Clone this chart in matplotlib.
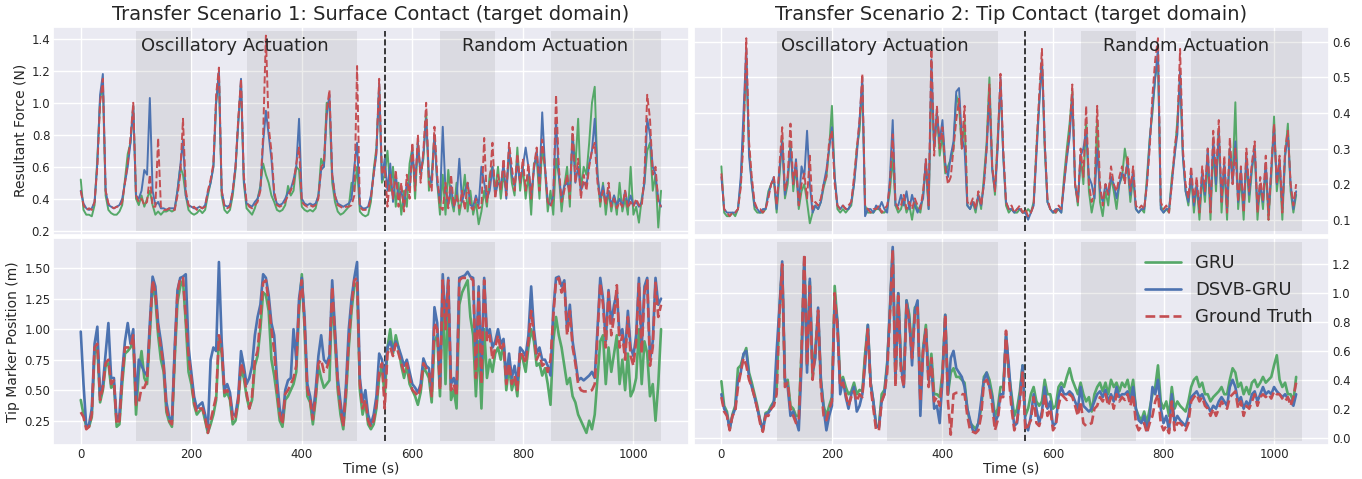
import numpy as np
import matplotlib
matplotlib.use('Agg')
import matplotlib.pyplot as plt
import seaborn as sns

dt = 5  # seconds between the samples

# ---- scenario 1 (surface contact), resultant force (N) ----
f1_gt = [0.45, 0.36, 0.33, 0.34, 0.33, 0.38, 0.6, 1.0, 1.15, 0.45,
         0.37, 0.35, 0.34, 0.35, 0.35, 0.38, 0.5, 0.62, 0.78, 1.0,
         0.42, 0.38, 0.4, 0.36, 0.38, 0.55, 0.35, 0.35, 0.78, 0.35,
         0.33, 0.33, 0.34, 0.33, 0.33, 0.42, 0.55, 0.9, 0.45, 0.36,
         0.34, 0.35, 0.33, 0.35, 0.34, 0.35, 0.45, 0.52, 0.62, 1.05,
         1.22, 0.45, 0.35, 0.34, 0.35, 0.45, 0.6, 0.9, 1.15, 0.55,
         0.38, 0.35, 0.34, 0.36, 0.38, 0.45, 0.8, 1.42, 0.85, 0.7,
         0.45, 0.36, 0.35, 0.36, 0.38, 0.42, 0.45, 0.5, 0.62, 0.72,
         0.38, 0.36, 0.35, 0.36, 0.35, 0.36, 0.4, 0.6, 0.62, 0.95,
         1.08, 0.55, 0.42, 0.36, 0.35, 0.34, 0.35, 0.35, 0.36, 0.42,
         1.23, 0.35, 0.33, 0.33, 0.34, 0.4, 0.55, 0.7, 1.15, 0.55,
         0.6, 0.35, 0.55, 0.4, 0.58, 0.35, 0.5, 0.32, 0.55, 0.4,
         0.75, 0.45, 0.8, 0.5, 0.7, 1.0, 0.5, 0.45, 0.85, 0.55,
         0.35, 0.33, 0.5, 0.34, 0.55, 0.35, 0.42, 0.34, 0.45, 0.33,
         0.5, 0.35, 0.33, 0.4, 0.34, 0.35, 0.78, 0.38, 0.5, 0.75,
         0.4, 0.55, 0.45, 0.65, 0.42, 0.75, 0.6, 0.45, 0.68, 0.5,
         0.65, 0.45, 0.62, 0.4, 0.6, 0.72, 0.45, 0.77, 0.6, 0.38,
         0.35, 0.4, 1.05, 0.6, 0.38, 0.45, 0.55, 0.4, 0.85, 0.5,
         0.65, 0.4, 0.55, 0.45, 0.6, 0.7, 0.75, 0.5, 0.38, 0.45,
         0.36, 0.5, 0.35, 0.4, 0.34, 0.38, 0.35, 0.45, 0.34, 0.38,
         0.35, 0.4, 0.36, 0.35, 0.55, 1.05, 0.9, 0.55, 0.6, 0.38,
         0.35]
f1_gru = [0.52, 0.33, 0.3, 0.3, 0.29, 0.36, 0.65, 1.02, 1.12, 0.42,
          0.33, 0.31, 0.3, 0.3, 0.32, 0.36, 0.52, 0.68, 0.75, 0.98,
          0.4, 0.36, 0.42, 0.35, 0.4, 0.45, 0.36, 0.3, 0.32, 0.3,
          0.32, 0.32, 0.33, 0.32, 0.33, 0.45, 0.6, 0.55, 0.42, 0.33,
          0.31, 0.3, 0.31, 0.33, 0.31, 0.33, 0.42, 0.5, 0.6, 1.0,
          1.18, 0.42, 0.33, 0.31, 0.33, 0.42, 0.58, 0.88, 1.12, 0.5,
          0.34, 0.32, 0.3, 0.34, 0.4, 0.48, 0.62, 0.55, 0.5, 0.42,
          0.38, 0.33, 0.32, 0.33, 0.36, 0.48, 0.42, 0.45, 0.6, 0.58,
          0.35, 0.33, 0.32, 0.33, 0.32, 0.34, 0.42, 0.65, 0.6, 1.0,
          1.0, 0.5, 0.38, 0.32, 0.3, 0.31, 0.33, 0.35, 0.5, 0.45,
          0.6, 0.32, 0.3, 0.29, 0.3, 0.38, 0.58, 0.72, 1.1, 0.5,
          0.55, 0.7, 0.45, 0.6, 0.35, 0.5, 0.3, 0.45, 0.35, 0.62,
          0.72, 0.4, 0.75, 0.55, 0.65, 0.95, 0.45, 0.55, 0.8, 0.5,
          0.3, 0.55, 0.3, 0.58, 0.4, 0.32, 0.5, 0.3, 0.4, 0.55,
          0.32, 0.45, 0.3, 0.38, 0.24, 0.32, 0.45, 0.35, 0.55, 0.6,
          0.45, 0.6, 0.4, 0.55, 0.45, 0.7, 0.5, 0.42, 0.72, 0.45,
          0.6, 0.4, 0.55, 0.3, 0.62, 0.65, 0.4, 0.72, 0.58, 0.32,
          0.45, 0.3, 0.65, 0.55, 0.32, 0.48, 0.6, 0.35, 0.8, 0.6,
          0.9, 0.45, 0.6, 0.55, 0.75, 1.0, 1.1, 0.55, 0.35, 0.5,
          0.3, 0.45, 0.32, 0.42, 0.3, 0.5, 0.32, 0.4, 0.3, 0.6,
          0.3, 0.35, 0.25, 0.4, 0.5, 0.7, 0.75, 0.45, 0.55, 0.22,
          0.45]
f1_dsvb = [0.45, 0.37, 0.34, 0.33, 0.34, 0.38, 0.62, 1.05, 1.18, 0.45,
           0.36, 0.35, 0.34, 0.35, 0.36, 0.4, 0.5, 0.6, 0.75, 0.98,
           0.42, 0.4, 0.45, 0.58, 0.55, 1.03, 0.45, 0.36, 0.38, 0.34,
           0.34, 0.33, 0.34, 0.34, 0.34, 0.45, 0.6, 0.77, 0.42, 0.36,
           0.35, 0.34, 0.34, 0.35, 0.34, 0.36, 0.44, 0.5, 0.6, 1.0,
           1.2, 0.45, 0.36, 0.35, 0.36, 0.45, 0.6, 0.88, 1.15, 0.52,
           0.37, 0.36, 0.35, 0.38, 0.4, 0.46, 0.75, 0.95, 0.8, 0.65,
           0.42, 0.37, 0.36, 0.37, 0.4, 0.44, 0.46, 0.52, 0.6, 0.9,
           0.4, 0.37, 0.36, 0.37, 0.36, 0.37, 0.42, 0.58, 0.6, 0.92,
           1.05, 0.55, 0.42, 0.37, 0.36, 0.35, 0.36, 0.37, 0.4, 0.6,
           0.75, 0.36, 0.34, 0.34, 0.35, 0.42, 0.55, 0.68, 1.12, 0.52,
           0.65, 0.45, 0.62, 0.38, 0.55, 0.4, 0.45, 0.35, 0.5, 0.45,
           0.7, 0.5, 0.75, 0.55, 0.68, 0.9, 0.55, 0.5, 0.8, 0.5,
           0.38, 0.85, 0.45, 0.36, 0.48, 0.35, 0.4, 0.65, 0.38, 0.45,
           0.5, 0.36, 0.35, 0.42, 0.36, 0.6, 0.5, 0.4, 0.45, 0.6,
           0.42, 0.5, 0.48, 0.62, 0.4, 0.72, 0.55, 0.48, 0.62, 0.5,
           0.6, 0.72, 0.6, 0.42, 0.58, 0.7, 0.5, 0.94, 0.6, 0.38,
           0.36, 0.42, 0.9, 0.55, 0.4, 0.48, 0.5, 0.45, 0.8, 0.5,
           0.6, 0.45, 0.5, 0.48, 0.62, 0.7, 0.9, 0.55, 0.4, 0.48,
           0.38, 0.45, 0.36, 0.42, 0.36, 0.4, 0.35, 0.45, 0.36, 0.42,
           0.36, 0.38, 0.35, 0.38, 0.5, 0.9, 0.8, 0.6, 0.55, 0.4,
           0.35]

# ---- scenario 2 (tip contact), resultant force (N) ----
f2_gt = [0.23, 0.13, 0.12, 0.11, 0.12, 0.12, 0.13, 0.19, 0.32, 0.61,
         0.32, 0.22, 0.15, 0.13, 0.13, 0.12, 0.13, 0.16, 0.2, 0.22,
         0.14, 0.25, 0.36, 0.18, 0.22, 0.37, 0.2, 0.26, 0.14, 0.2,
         0.23, 0.16, 0.28, 0.13, 0.15, 0.14, 0.16, 0.2, 0.22, 0.32,
         0.35, 0.2, 0.14, 0.13, 0.14, 0.13, 0.14, 0.15, 0.22, 0.3,
         0.38, 0.51, 0.14, 0.13, 0.12, 0.13, 0.13, 0.14, 0.12, 0.13,
         0.14, 0.2, 0.34, 0.15, 0.13, 0.14, 0.17, 0.13, 0.15, 0.13,
         0.16, 0.14, 0.13, 0.18, 0.27, 0.14, 0.58, 0.28, 0.42, 0.3,
         0.36, 0.25, 0.2, 0.22, 0.3, 0.38, 0.44, 0.3, 0.42, 0.15,
         0.14, 0.16, 0.13, 0.18, 0.14, 0.2, 0.3, 0.48, 0.25, 0.18,
         0.32, 0.51, 0.3, 0.15, 0.13, 0.14, 0.12, 0.13, 0.14, 0.12,
         0.13, 0.11, 0.12, 0.14, 0.3, 0.45, 0.58, 0.32, 0.16, 0.13,
         0.13, 0.12, 0.14, 0.13, 0.2, 0.28, 0.35, 0.48, 0.2, 0.15,
         0.3, 0.22, 0.42, 0.2, 0.15, 0.18, 0.42, 0.2, 0.14, 0.2,
         0.17, 0.25, 0.2, 0.18, 0.22, 0.25, 0.2, 0.28, 0.18, 0.25,
         0.14, 0.13, 0.14, 0.13, 0.2, 0.3, 0.45, 0.55, 0.61, 0.15,
         0.13, 0.14, 0.12, 0.2, 0.3, 0.36, 0.58, 0.3, 0.2, 0.16,
         0.25, 0.15, 0.22, 0.12, 0.25, 0.18, 0.3, 0.12, 0.35, 0.22,
         0.38, 0.15, 0.28, 0.12, 0.33, 0.2, 0.3, 0.15, 0.25, 0.12,
         0.3, 0.18, 0.26, 0.32, 0.12, 0.22, 0.15, 0.28, 0.1, 0.25,
         0.37, 0.2, 0.28, 0.12, 0.3, 0.35, 0.2, 0.14, 0.2]
f2_gru = [0.25, 0.12, 0.11, 0.11, 0.12, 0.11, 0.13, 0.2, 0.35, 0.55,
          0.3, 0.2, 0.13, 0.12, 0.12, 0.12, 0.13, 0.18, 0.2, 0.21,
          0.12, 0.22, 0.33, 0.16, 0.2, 0.32, 0.18, 0.25, 0.13, 0.18,
          0.2, 0.15, 0.09, 0.12, 0.14, 0.13, 0.15, 0.19, 0.22, 0.3,
          0.42, 0.22, 0.13, 0.12, 0.13, 0.12, 0.13, 0.14, 0.2, 0.3,
          0.35, 0.48, 0.14, 0.12, 0.12, 0.12, 0.13, 0.13, 0.12, 0.12,
          0.13, 0.18, 0.28, 0.14, 0.12, 0.13, 0.16, 0.12, 0.14, 0.1,
          0.15, 0.13, 0.12, 0.17, 0.25, 0.13, 0.5, 0.3, 0.4, 0.28,
          0.34, 0.23, 0.25, 0.27, 0.3, 0.45, 0.42, 0.3, 0.38, 0.14,
          0.13, 0.15, 0.12, 0.17, 0.13, 0.22, 0.32, 0.5, 0.25, 0.17,
          0.33, 0.48, 0.28, 0.14, 0.12, 0.13, 0.12, 0.12, 0.13, 0.12,
          0.12, 0.13, 0.12, 0.15, 0.3, 0.43, 0.55, 0.3, 0.15, 0.13,
          0.12, 0.12, 0.13, 0.12, 0.22, 0.3, 0.37, 0.46, 0.2, 0.14,
          0.28, 0.2, 0.38, 0.18, 0.12, 0.16, 0.38, 0.15, 0.11, 0.18,
          0.14, 0.22, 0.18, 0.13, 0.2, 0.22, 0.3, 0.25, 0.15, 0.22,
          0.13, 0.12, 0.13, 0.12, 0.22, 0.33, 0.4, 0.5, 0.55, 0.14,
          0.12, 0.13, 0.12, 0.22, 0.28, 0.38, 0.5, 0.28, 0.18, 0.14,
          0.22, 0.12, 0.2, 0.1, 0.22, 0.15, 0.27, 0.1, 0.3, 0.18,
          0.35, 0.12, 0.25, 0.1, 0.3, 0.22, 0.43, 0.13, 0.22, 0.1,
          0.27, 0.15, 0.24, 0.3, 0.1, 0.2, 0.13, 0.25, 0.1, 0.22,
          0.39, 0.18, 0.25, 0.1, 0.28, 0.37, 0.18, 0.12, 0.17]
f2_dsvb = [0.22, 0.13, 0.12, 0.12, 0.12, 0.12, 0.13, 0.22, 0.4, 0.58,
           0.28, 0.2, 0.14, 0.13, 0.12, 0.13, 0.13, 0.17, 0.2, 0.22,
           0.13, 0.24, 0.32, 0.17, 0.22, 0.3, 0.2, 0.27, 0.14, 0.25,
           0.22, 0.35, 0.2, 0.12, 0.14, 0.13, 0.15, 0.2, 0.24, 0.3,
           0.36, 0.22, 0.14, 0.13, 0.14, 0.13, 0.13, 0.15, 0.2, 0.28,
           0.38, 0.5, 0.11, 0.13, 0.13, 0.12, 0.14, 0.13, 0.15, 0.13,
           0.12, 0.22, 0.38, 0.14, 0.14, 0.17, 0.14, 0.18, 0.13, 0.17,
           0.14, 0.12, 0.14, 0.16, 0.27, 0.13, 0.55, 0.3, 0.4, 0.32,
           0.38, 0.26, 0.22, 0.28, 0.32, 0.46, 0.47, 0.33, 0.3, 0.14,
           0.13, 0.15, 0.13, 0.17, 0.14, 0.2, 0.3, 0.45, 0.24, 0.18,
           0.3, 0.5, 0.28, 0.15, 0.13, 0.13, 0.12, 0.13, 0.13, 0.12,
           0.12, 0.1, 0.12, 0.14, 0.28, 0.42, 0.55, 0.32, 0.15, 0.13,
           0.12, 0.13, 0.13, 0.12, 0.2, 0.27, 0.33, 0.45, 0.2, 0.15,
           0.28, 0.3, 0.35, 0.22, 0.2, 0.16, 0.3, 0.18, 0.15, 0.2,
           0.17, 0.22, 0.2, 0.16, 0.2, 0.23, 0.22, 0.26, 0.17, 0.24,
           0.13, 0.12, 0.13, 0.13, 0.2, 0.32, 0.42, 0.5, 0.58, 0.13,
           0.12, 0.13, 0.13, 0.2, 0.28, 0.34, 0.52, 0.28, 0.18, 0.15,
           0.23, 0.14, 0.2, 0.13, 0.23, 0.17, 0.3, 0.13, 0.33, 0.2,
           0.35, 0.15, 0.26, 0.13, 0.3, 0.2, 0.32, 0.15, 0.24, 0.13,
           0.28, 0.17, 0.25, 0.3, 0.13, 0.2, 0.15, 0.26, 0.12, 0.24,
           0.36, 0.2, 0.27, 0.13, 0.28, 0.34, 0.2, 0.13, 0.18]

# ---- scenario 1, tip marker position (m) ----
p1_gt = [0.32, 0.28, 0.18, 0.2, 0.3, 0.85, 0.88, 0.42, 0.52, 0.72,
         0.75, 0.55, 0.58, 0.22, 0.25, 0.6, 0.85, 0.85, 0.85, 0.95,
         0.38, 0.4, 0.52, 0.52, 0.58, 1.0, 1.4, 1.3, 1.0, 0.85,
         0.7, 0.35, 0.25, 0.22, 0.8, 1.3, 1.42, 1.42, 1.1, 0.78,
         0.6, 0.4, 0.32, 0.35, 0.35, 0.28, 0.15, 0.25, 0.35, 0.45,
         0.95, 0.85, 0.48, 0.5, 0.45, 0.25, 0.28, 0.42, 0.72, 0.65,
         0.48, 0.35, 0.45, 0.75, 0.82, 1.1, 1.38, 1.4, 1.22, 1.0,
         0.82, 0.5, 0.3, 0.22, 0.47, 0.5, 0.55, 0.6, 0.7, 1.2,
         1.4, 1.05, 0.5, 0.42, 0.26, 0.45, 0.72, 0.75, 0.65, 0.68,
         0.75, 1.35, 0.95, 0.55, 0.35, 0.2, 0.5, 0.9, 1.2, 1.4,
         1.42, 0.55, 0.35, 0.42, 0.25, 0.2, 0.25, 0.38, 0.65, 0.72,
         0.35, 0.8, 0.85, 0.78, 0.88, 0.8, 0.72, 0.65, 0.72, 0.6,
         0.5, 0.48, 0.45, 0.52, 0.72, 0.68, 0.65, 0.45, 1.05, 1.0,
         0.5, 1.4, 1.0, 1.4, 0.5, 0.55, 0.45, 1.4, 1.42, 1.42,
         1.42, 1.42, 1.4, 0.6, 1.3, 0.55, 1.4, 0.9, 0.95, 0.75,
         0.85, 0.95, 0.82, 0.88, 0.55, 0.72, 0.55, 0.62, 0.5, 0.82,
         0.78, 0.72, 0.9, 1.15, 0.95, 0.75, 0.8, 0.7, 0.72, 0.65,
         0.75, 1.1, 1.4, 1.42, 1.3, 1.38, 0.95, 1.15, 0.85, 0.72,
         0.55, 0.5, 0.49, 0.49, 0.49, 0.5, 0.55, 0.95, 1.38, 1.2,
         0.85, 1.3, 0.95, 1.1, 1.36, 0.85, 0.95, 0.75, 1.1, 0.78,
         0.7, 0.9, 1.38, 0.8, 1.3, 1.4, 0.7, 0.85, 1.38, 1.1,
         1.2]
p1_gru = [0.42, 0.3, 0.2, 0.2, 0.28, 0.8, 0.85, 0.4, 0.5, 0.7,
          0.72, 0.52, 0.55, 0.2, 0.22, 0.55, 0.8, 0.82, 0.85, 0.9,
          0.3, 0.65, 0.82, 0.6, 0.55, 0.95, 1.38, 1.25, 0.95, 0.75,
          0.65, 0.32, 0.24, 0.2, 0.75, 1.22, 1.35, 1.4, 1.05, 0.65,
          0.55, 0.38, 0.3, 0.33, 0.35, 0.25, 0.15, 0.22, 0.3, 0.42,
          0.92, 0.8, 0.45, 0.48, 0.42, 0.22, 0.25, 0.4, 0.68, 0.6,
          0.45, 0.35, 0.42, 0.7, 0.78, 1.0, 1.3, 1.28, 1.15, 0.75,
          0.62, 0.45, 0.25, 0.2, 0.42, 0.45, 0.5, 0.55, 0.65, 1.15,
          1.45, 1.0, 0.45, 0.4, 0.22, 0.42, 0.7, 0.6, 0.52, 0.55,
          0.58, 1.3, 0.9, 0.5, 0.3, 0.18, 0.45, 0.85, 1.15, 1.35,
          1.38, 0.5, 0.3, 0.4, 0.22, 0.18, 0.22, 0.35, 0.6, 0.7,
          0.45, 0.85, 1.0, 0.8, 0.95, 0.85, 0.7, 0.6, 0.7, 0.55,
          0.5, 0.45, 0.38, 0.48, 0.68, 0.65, 0.6, 0.4, 0.9, 0.95,
          0.45, 1.3, 0.55, 1.3, 0.42, 0.5, 0.35, 1.2, 1.3, 1.35,
          1.4, 1.1, 0.95, 0.45, 0.9, 0.35, 1.0, 0.6, 0.75, 0.65,
          0.8, 0.85, 0.75, 0.9, 0.5, 0.7, 0.5, 0.6, 0.45, 0.8,
          0.75, 0.65, 0.85, 1.0, 0.9, 0.7, 0.72, 0.62, 0.68, 0.55,
          0.38, 0.9, 1.1, 0.95, 0.85, 0.7, 0.55, 0.6, 0.45, 0.4,
          0.3, 0.25, 0.2, 0.15, 0.25, 0.18, 0.3, 0.6, 0.9, 0.95,
          0.55, 0.85, 0.65, 0.8, 0.95, 0.55, 0.75, 0.5, 0.8, 0.45,
          0.5, 0.6, 1.0, 0.55, 0.9, 0.8, 0.45, 0.55, 0.25, 0.55,
          1.0]
p1_dsvb = [0.98, 0.55, 0.2, 0.22, 0.35, 0.88, 1.02, 0.45, 0.55, 0.8,
           1.05, 0.6, 0.6, 0.25, 0.3, 0.65, 0.9, 1.05, 0.88, 1.0,
           0.4, 0.75, 0.7, 0.65, 0.62, 1.05, 1.43, 1.35, 1.05, 0.9,
           0.72, 0.4, 0.28, 0.25, 0.85, 1.32, 1.42, 1.43, 1.45, 0.85,
           0.65, 0.45, 0.35, 0.38, 0.4, 0.3, 0.18, 0.75, 0.85, 0.82,
           1.55, 0.9, 0.5, 0.55, 0.48, 0.3, 0.3, 0.45, 0.82, 0.7,
           0.55, 0.6, 0.7, 0.95, 1.1, 1.2, 1.45, 1.42, 1.28, 1.05,
           0.95, 0.6, 0.35, 0.25, 0.5, 0.58, 0.6, 1.0, 0.75, 1.25,
           1.42, 1.1, 0.55, 0.45, 0.3, 0.5, 0.78, 0.95, 0.75, 0.72,
           0.78, 1.4, 1.0, 0.6, 0.4, 0.22, 0.55, 1.0, 1.25, 1.42,
           1.55, 0.6, 0.4, 0.5, 0.3, 0.22, 0.3, 0.45, 0.8, 0.75,
           0.6, 0.85, 0.9, 0.82, 0.9, 0.85, 0.78, 0.7, 0.75, 0.65,
           0.55, 0.52, 0.48, 0.55, 0.76, 0.7, 0.68, 0.5, 1.18, 1.05,
           0.55, 1.45, 1.05, 1.42, 0.55, 0.6, 0.5, 1.42, 1.43, 1.44,
           1.47, 1.43, 1.42, 0.7, 1.35, 0.65, 1.42, 0.95, 1.0, 0.85,
           0.9, 1.0, 0.88, 0.92, 0.6, 0.8, 0.6, 0.7, 0.55, 0.85,
           0.82, 0.78, 0.95, 1.35, 1.0, 0.8, 0.85, 0.75, 0.75, 0.7,
           0.62, 1.15, 1.42, 1.43, 1.35, 1.4, 1.0, 1.2, 0.9, 0.75,
           0.58, 0.6, 0.58, 0.6, 0.62, 0.65, 0.6, 1.0, 1.42, 1.25,
           0.9, 1.32, 1.05, 1.2, 1.3, 0.95, 1.0, 0.8, 1.15, 0.85,
           0.78, 0.95, 1.42, 0.85, 1.35, 1.42, 0.75, 0.9, 1.42, 1.2,
           1.25]

# ---- scenario 2, tip marker position (m) ----
p2_gt = [0.28, 0.18, 0.15, 0.05, 0.15, 0.18, 0.35, 0.45, 0.55, 0.5,
         0.4, 0.35, 0.28, 0.2, 0.1, 0.04, 0.15, 0.15, 0.2, 0.22,
         0.3, 0.85, 1.2, 0.35, 0.38, 0.2, 0.15, 0.1, 0.12, 0.6,
         1.27, 0.5, 1.05, 0.4, 0.6, 0.88, 0.35, 0.15, 0.12, 0.2,
         0.25, 1.0, 0.75, 0.35, 0.38, 0.3, 0.22, 0.28, 0.32, 0.25,
         0.3, 0.28, 0.55, 0.75, 0.35, 0.2, 0.05, 0.05, 0.25, 0.3,
         0.45, 0.85, 1.3, 0.35, 0.98, 0.45, 0.35, 0.92, 0.8, 0.55,
         0.85, 0.9, 0.25, 0.6, 0.75, 0.35, 0.55, 0.25, 0.28, 0.22,
         0.42, 0.85, 0.25, 0.02, 0.3, 0.31, 0.31, 0.3, 0.3, 0.15,
         0.05, 0.04, 0.03, 0.05, 0.15, 0.38, 0.4, 0.35, 0.22, 0.05,
         0.12, 0.28, 0.28, 0.74, 0.42, 0.2, 0.05, 0.12, 0.25, 0.45,
         0.05, 0.08, 0.12, 0.28, 0.1, 0.08, 0.15, 0.3, 0.15, 0.2,
         0.05, 0.08, 0.22, 0.3, 0.28, 0.26, 0.3, 0.28, 0.22, 0.15,
         0.25, 0.1, 0.08, 0.09, 0.1, 0.2, 0.22, 0.28, 0.25, 0.3,
         0.22, 0.28, 0.2, 0.3, 0.25, 0.28, 0.26, 0.3, 0.22, 0.3,
         0.1, 0.05, 0.08, 0.1, 0.03, 0.1, 0.15, 0.25, 0.3, 0.1,
         0.05, 0.08, 0.03, 0.25, 0.05, 0.1, 0.1, 0.08, 0.05, 0.1,
         0.25, 0.28, 0.3, 0.25, 0.28, 0.22, 0.2, 0.15, 0.2, 0.15,
         0.2, 0.25, 0.22, 0.2, 0.28, 0.3, 0.32, 0.2, 0.25, 0.15,
         0.22, 0.2, 0.25, 0.3, 0.22, 0.28, 0.3, 0.28, 0.3, 0.27,
         0.32, 0.3, 0.3, 0.27, 0.25, 0.28, 0.22, 0.28, 0.38]
p2_gru = [0.39, 0.22, 0.18, 0.06, 0.16, 0.22, 0.48, 0.5, 0.57, 0.62,
          0.45, 0.38, 0.3, 0.22, 0.12, 0.05, 0.17, 0.18, 0.22, 0.25,
          0.35, 0.88, 1.18, 0.38, 0.4, 0.22, 0.2, 0.15, 0.15, 0.6,
          1.22, 0.5, 1.08, 0.42, 0.62, 0.85, 0.4, 0.22, 0.15, 0.22,
          0.28, 1.05, 0.8, 0.38, 0.42, 0.35, 0.3, 0.32, 0.38, 0.3,
          0.33, 0.32, 0.58, 0.78, 0.38, 0.25, 0.08, 0.08, 0.3, 0.33,
          0.52, 0.88, 1.3, 0.42, 1.0, 0.5, 0.4, 0.95, 0.85, 0.58,
          0.9, 0.92, 0.28, 0.62, 0.78, 0.4, 0.58, 0.3, 0.3, 0.28,
          0.45, 0.85, 0.3, 0.45, 0.48, 0.42, 0.42, 0.4, 0.38, 0.2,
          0.1, 0.08, 0.06, 0.1, 0.2, 0.42, 0.45, 0.4, 0.3, 0.15,
          0.2, 0.35, 0.35, 0.7, 0.45, 0.3, 0.15, 0.2, 0.32, 0.5,
          0.15, 0.2, 0.3, 0.35, 0.25, 0.22, 0.25, 0.4, 0.3, 0.3,
          0.2, 0.22, 0.35, 0.38, 0.35, 0.42, 0.48, 0.4, 0.35, 0.3,
          0.38, 0.3, 0.25, 0.28, 0.18, 0.3, 0.35, 0.38, 0.32, 0.38,
          0.3, 0.4, 0.35, 0.38, 0.32, 0.38, 0.35, 0.4, 0.3, 0.4,
          0.2, 0.15, 0.12, 0.18, 0.1, 0.2, 0.3, 0.35, 0.5, 0.25,
          0.2, 0.25, 0.15, 0.35, 0.2, 0.25, 0.22, 0.2, 0.18, 0.25,
          0.35, 0.4, 0.42, 0.35, 0.38, 0.3, 0.3, 0.25, 0.28, 0.3,
          0.32, 0.35, 0.3, 0.3, 0.4, 0.48, 0.45, 0.35, 0.38, 0.3,
          0.35, 0.3, 0.38, 0.4, 0.35, 0.38, 0.42, 0.38, 0.4, 0.42,
          0.5, 0.57, 0.4, 0.35, 0.38, 0.3, 0.3, 0.25, 0.42]
p2_dsvb = [0.3, 0.2, 0.16, 0.06, 0.15, 0.2, 0.4, 0.45, 0.58, 0.6,
           0.42, 0.35, 0.28, 0.2, 0.12, 0.05, 0.16, 0.17, 0.2, 0.25,
           0.6, 0.9, 1.22, 0.4, 0.35, 0.15, 0.18, 0.12, 0.05, 0.5,
           1.25, 0.45, 1.1, 0.45, 0.55, 0.9, 0.4, 0.2, 0.05, 0.15,
           0.22, 0.95, 0.8, 0.3, 0.4, 0.28, 0.2, 0.3, 0.35, 0.18,
           0.22, 0.3, 0.5, 0.78, 0.38, 0.25, 0.08, 0.07, 0.25, 0.3,
           0.5, 0.9, 1.32, 0.4, 1.0, 0.5, 0.35, 0.95, 0.82, 0.5,
           0.88, 0.95, 0.15, 0.6, 0.75, 0.4, 0.5, 0.2, 0.22, 0.1,
           0.4, 0.85, 0.3, 0.55, 0.6, 0.48, 0.45, 0.42, 0.35, 0.2,
           0.12, 0.05, 0.04, 0.1, 0.25, 0.4, 0.45, 0.35, 0.28, 0.1,
           0.15, 0.3, 0.3, 0.72, 0.5, 0.25, 0.08, 0.1, 0.28, 0.5,
           0.1, 0.05, 0.15, 0.3, 0.2, 0.1, 0.18, 0.35, 0.2, 0.25,
           0.08, 0.1, 0.28, 0.35, 0.3, 0.3, 0.32, 0.3, 0.25, 0.2,
           0.35, 0.22, 0.2, 0.18, 0.2, 0.25, 0.3, 0.32, 0.28, 0.33,
           0.25, 0.3, 0.25, 0.35, 0.28, 0.3, 0.3, 0.32, 0.25, 0.35,
           0.2, 0.12, 0.1, 0.15, 0.05, 0.15, 0.35, 0.3, 0.4, 0.2,
           0.1, 0.15, 0.05, 0.3, 0.1, 0.15, 0.12, 0.1, 0.08, 0.15,
           0.28, 0.3, 0.32, 0.28, 0.3, 0.25, 0.22, 0.18, 0.22, 0.2,
           0.25, 0.28, 0.25, 0.22, 0.35, 0.4, 0.35, 0.25, 0.28, 0.2,
           0.25, 0.22, 0.3, 0.32, 0.25, 0.3, 0.35, 0.3, 0.32, 0.3,
           0.35, 0.32, 0.3, 0.28, 0.3, 0.27, 0.25, 0.22, 0.3]

osc_spans = [(100, 200), (300, 500)]
rand_spans = [(650, 750), (850, 1050)]
switch_t = 550

titles = ['Transfer Scenario 1: Surface Contact (target domain)',
          'Transfer Scenario 2: Tip Contact (target domain)']

sns.set_theme(style='darkgrid')
plt.rcParams['font.family'] = ['DejaVu Sans']
pal = sns.color_palette('deep')
c_gru, c_dsvb, c_gt = pal[2], pal[0], pal[3]

fig, axes = plt.subplots(2, 2, figsize=(13.62, 4.79), dpi=100, sharex=True)
fig.subplots_adjust(left=0.039, right=0.976, top=0.944, bottom=0.07,
                    wspace=0.008, hspace=0.014)

panels = [
    (axes[0, 0], f1_gru, f1_dsvb, f1_gt, 1.4),
    (axes[0, 1], f2_gru, f2_dsvb, f2_gt, 1.4),
    (axes[1, 0], p1_gru, p1_dsvb, p1_gt, 1.9),
    (axes[1, 1], p2_gru, p2_dsvb, p2_gt, 1.9),
]

for ax, gru, dsvb, gt, lw in panels:
    for a, b in osc_spans + rand_spans:
        ax.axvspan(a, b, ymin=0.02, ymax=0.98, color='gray', alpha=0.15, lw=0)
    ax.axvline(switch_t, ymin=0.02, ymax=0.98, color='k', ls='--', lw=1.2)
    ax.plot(np.arange(len(gru)) * dt, gru, color=c_gru, lw=lw, label='GRU')
    ax.plot(np.arange(len(dsvb)) * dt, dsvb, color=c_dsvb, lw=lw, label='DSVB-GRU')
    ax.plot(np.arange(len(gt)) * dt, gt, color=c_gt, lw=lw, ls='--', label='Ground Truth')
    ax.set_xlim(-50, 1100)
    ax.tick_params(labelsize=8.5, length=0, pad=2)

axes[0, 0].set_ylim(0.175, 1.475)
axes[0, 0].set_yticks(np.arange(0.2, 1.41, 0.2))
axes[0, 1].set_ylim(0.058, 0.642)
axes[0, 1].set_yticks(np.arange(0.1, 0.61, 0.1))
axes[1, 0].set_ylim(0.047, 1.75)
axes[1, 0].set_yticks(np.arange(0.25, 1.51, 0.25))
axes[1, 1].set_ylim(-0.055, 1.385)
axes[1, 1].set_yticks(np.arange(0.0, 1.21, 0.2))
axes[1, 0].set_xticks(range(0, 1001, 200))

for ax in axes[:, 1]:
    ax.yaxis.tick_right()

for j in range(2):
    axes[0, j].set_title(titles[j], fontsize=14, pad=5)
    tr = axes[0, j].get_xaxis_transform()
    axes[0, j].text(278, 0.91, 'Oscillatory Actuation', transform=tr,
                    ha='center', va='center', fontsize=13, color='#262626')
    axes[0, j].text(840, 0.91, 'Random Actuation', transform=tr,
                    ha='center', va='center', fontsize=13, color='#262626')
    axes[1, j].set_xlabel('Time (s)', fontsize=10, labelpad=0)

axes[0, 0].set_ylabel('Resultant Force (N)', fontsize=10, labelpad=3)
axes[1, 0].set_ylabel('Tip Marker Position (m)', fontsize=10, labelpad=3)

axes[1, 1].legend(loc='upper right', fontsize=13, frameon=False)

fig.savefig('out.png', dpi=100)
